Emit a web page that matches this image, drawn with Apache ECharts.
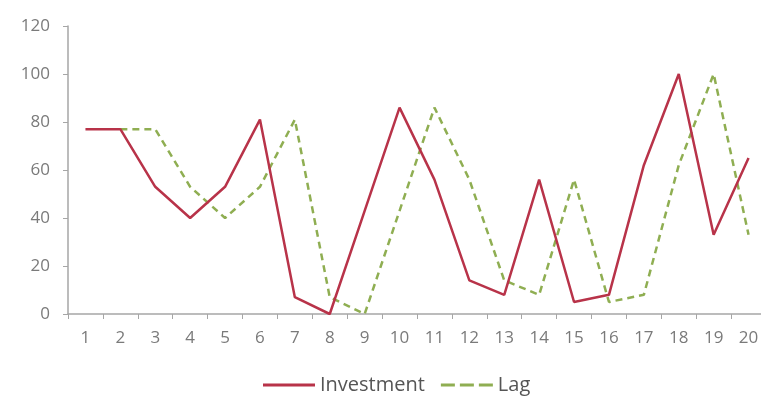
<!DOCTYPE html>
<html>
<head>
<meta charset="utf-8">
<script src="https://cdn.jsdelivr.net/npm/echarts@6/dist/echarts.min.js"></script>
<style>
  html, body { margin: 0; padding: 0; background: #fff; }
  #chart { width: 761px; height: 396px; }
</style>
</head>
<body>
<div id="chart"></div>
<script>
// Periods 1..20
const periods = ['1','2','3','4','5','6','7','8','9','10','11','12','13','14','15','16','17','18','19','20'];
// Investment per period
const investment = [77, 77, 53, 40, 53, 81, 7, 0, 43, 86, 56, 14, 8, 56, 5, 8, 62, 100, 33, 65];
// Investment lagged by one period
const lag = ['-', 77, 77, 53, 40, 53, 81, 7, 0, 43, 86, 56, 14, 8, 56, 5, 8, 62, 100, 33];

const chart = echarts.init(document.getElementById('chart'));
const axisGrey = '#a6a6a6';
const labelGrey = '#7a7a7a';
const redLine = '#b83349';
const greenLine = '#8fae52';

chart.setOption({
  animation: false,
  backgroundColor: '#ffffff',
  grid: { left: 68, top: 26, width: 698, bottom: 82, containLabel: false, outerBoundsMode: 'none' },
  legend: {
    left: 258,
    top: 370,
    itemWidth: 52,
    itemHeight: 14,
    itemGap: 16,
    textStyle: { fontFamily: 'Open Sans', fontSize: 20, color: '#555' },
    data: [
      { name: 'Investment', icon: 'path://M0,6 L52,6 L52,9 L0,9 Z' },
      { name: 'Lag', icon: 'path://M0,6h14v3h-14z M19,6h14v3h-14z M38,6h14v3h-14z' }
    ]
  },
  xAxis: {
    type: 'category',
    data: periods,
    boundaryGap: true,
    axisLine: { lineStyle: { color: axisGrey, width: 1.5 } },
    axisTick: { show: true, alignWithLabel: false, length: 5, lineStyle: { color: axisGrey } },
    axisLabel: { color: labelGrey, fontFamily: 'Open Sans', fontSize: 17, margin: 16 }
  },
  yAxis: {
    type: 'value',
    min: 0,
    max: 120,
    interval: 20,
    axisLine: { show: true, lineStyle: { color: axisGrey, width: 1.5 } },
    axisTick: { show: true, length: 5, lineStyle: { color: axisGrey } },
    splitLine: { show: false },
    axisLabel: { color: labelGrey, fontFamily: 'Open Sans', fontSize: 17, margin: 18 }
  },
  series: [
    {
      name: 'Lag',
      type: 'line',
      data: lag,
      symbol: 'none',
      color: greenLine,
      lineStyle: { color: greenLine, width: 2.5, type: [7, 5] },
      z: 2
    },
    {
      name: 'Investment',
      type: 'line',
      data: investment,
      symbol: 'none',
      color: redLine,
      lineStyle: { color: redLine, width: 2.5 },
      z: 3
    }
  ]
});
</script>
</body>
</html>
